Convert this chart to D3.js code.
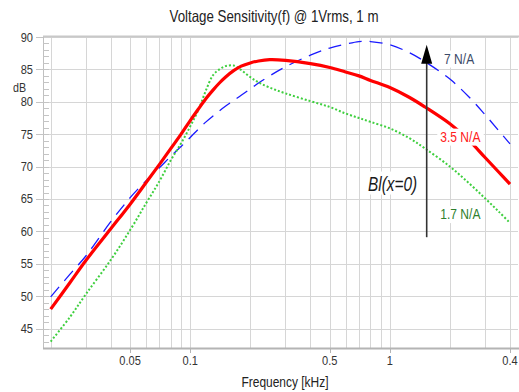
<!DOCTYPE html>
<meta charset="utf-8">
<head>
  <style>
    body { margin: 0; background: #fff; }
    text { font-family: "Liberation Sans", Arial, sans-serif; }
  </style>
  <script src="https://cdn.jsdelivr.net/npm/d3@7"></script>
</head>
<body>
<script>
  // frequency grid (kHz) shared by the three responses
  const freqs = [0.02, 0.025, 0.03, 0.04, 0.05, 0.06, 0.07, 0.08, 0.09, 0.1,
    0.11, 0.12, 0.13, 0.14, 0.15, 0.165, 0.18, 0.2, 0.22, 0.25, 0.3, 0.4, 0.5,
    0.6, 0.7, 0.8, 1, 1.25, 1.5, 2, 2.5, 3, 3.5, 4];

  // SPL in dB for three force factors
  const bl7 = [49.9, 53.4, 56.2, 61.5, 65.2, 67.8, 69.8, 71.6, 73.1, 74.5,
    75.8, 76.9, 77.8, 78.6, 79.3, 80.2, 81.0, 82.0, 82.9, 84.0, 85.4, 87.2, 88.3,
    88.9, 89.3, 89.3, 88.8, 87.6, 86.2, 83.5, 80.7, 78.0, 75.6, 73.5];
  const bl35 = [48.0, 52.1, 55.5, 60.4, 64.2, 67.5, 70.3, 72.8, 75.0, 77.1,
    78.9, 80.5, 81.8, 82.9, 83.8, 84.8, 85.5, 86.0, 86.3, 86.5, 86.4, 85.9, 85.3,
    84.6, 84.0, 83.3, 82.2, 80.7, 79.2, 76.6, 74.0, 71.4, 69.2, 67.3];
  const bl17 = [43.0, 46.8, 50.3, 55.6, 60.2, 64.3, 67.7, 71.0, 73.6, 76.2,
    78.8, 81.8, 84.1, 85.0, 85.5, 85.6, 84.9, 83.8, 83.0, 82.2, 81.3, 80.1, 79.2,
    78.2, 77.5, 76.9, 75.9, 74.4, 72.8, 70.0, 67.4, 65.1, 63.1, 61.3];

  const gridFreqs = [0.02, 0.03, 0.04, 0.05, 0.06, 0.07, 0.08, 0.09, 0.1,
    0.2, 0.3, 0.4, 0.5, 0.6, 0.7, 0.8, 0.9, 1, 2, 3, 4];
  const xTicks = [0.05, 0.1, 0.5, 1, 4];
  const xTickLabels = ["0.05", "0.1", "0.5", "1", "0.4"];
  const yTicks = [45, 50, 55, 60, 65, 70, 75, 80, 85, 90];

  // Bl arrow and curve labels
  const arrowFreq = 1.53, arrowFrom = 59.1, arrowTo = 88.8;
  const notes = [
    {text: "7 N/A", f: 1.87, db: 85.9, color: "#3b4a68"},
    {text: "3.5 N/A", f: 1.79, db: 73.85, color: "#ff2020"},
    {text: "1.7 N/A", f: 1.79, db: 61.9, color: "#2e7f2e"}
  ];

  const W = 519, H = 392;
  const pL = 43, pR = 518, pT = 37, pB = 348;

  const x = d3.scaleLog().domain([0.02, 4]).range([50.7, 510]);
  const y = d3.scaleLinear().domain([42, 90]).range([pB, pT]);

  // the chart's font is a condensed sans; squeeze the regular one to suit
  function squeeze(sel, k) {
    sel.each(function() {
      const w = this.getComputedTextLength();
      d3.select(this).attr("textLength", w * k).attr("lengthAdjust", "spacingAndGlyphs");
    });
    return sel;
  }
  function fitTo(sel, w) {
    return sel.attr("textLength", w).attr("lengthAdjust", "spacingAndGlyphs");
  }

  const svg = d3.select("body").append("svg")
    .attr("width", W).attr("height", H)
    .style("display", "block");

  svg.append("text")
    .attr("x", 274).attr("y", 22)
    .attr("text-anchor", "middle")
    .attr("font-size", 16.5)
    .attr("fill", "#222")
    .text("Voltage Sensitivity(f) @ 1Vrms, 1 m")
    .call(fitTo, 209);

  const grid = svg.append("g").attr("stroke", "#d6d6d6").attr("stroke-width", 1);
  grid.selectAll(".h").data(yTicks).join("line")
    .attr("x1", pL).attr("x2", pR)
    .attr("y1", d => Math.round(y(d)) + 0.5).attr("y2", d => Math.round(y(d)) + 0.5);
  grid.selectAll(".v").data(gridFreqs).join("line")
    .attr("x1", d => Math.round(x(d)) + 0.5).attr("x2", d => Math.round(x(d)) + 0.5)
    .attr("y1", pT).attr("y2", pB);

  // frame
  svg.append("line").attr("x1", pL).attr("x2", W).attr("y1", pT - 0.5).attr("y2", pT - 0.5)
    .attr("stroke", "#c8c8c8").attr("stroke-width", 2);
  svg.append("line").attr("x1", pL + 0.5).attr("x2", pL + 0.5).attr("y1", pT).attr("y2", pB)
    .attr("stroke", "#c0c0c0");
  svg.append("line").attr("x1", pL).attr("x2", W).attr("y1", pB + 0.5).attr("y2", pB + 0.5)
    .attr("stroke", "#b4b4b4").attr("stroke-width", 2);

  // y ticks
  svg.append("g").attr("stroke", "#c4c4c4")
    .selectAll("line").data(d3.range(43, 90)).join("line")
    .attr("x1", pL).attr("x2", pL + 6)
    .attr("y1", d => Math.round(y(d)) + 0.5).attr("y2", d => Math.round(y(d)) + 0.5);
  svg.append("g").attr("stroke", "#c4c4c4")
    .selectAll("line").data(yTicks).join("line")
    .attr("x1", pL - 7).attr("x2", pL)
    .attr("y1", d => Math.round(y(d)) + 0.5).attr("y2", d => Math.round(y(d)) + 0.5);
  svg.append("g").selectAll("text").data(yTicks).join("text")
    .attr("x", 33).attr("y", d => y(d) + 4.5)
    .attr("text-anchor", "end").attr("font-size", 13).attr("fill", "#333")
    .text(d => d)
    .call(squeeze, 0.85);
  svg.append("text").attr("x", 13).attr("y", 92)
    .attr("font-size", 13).attr("fill", "#333").text("dB")
    .call(squeeze, 0.82);

  // x ticks
  svg.append("g").attr("stroke", "#b4b4b4")
    .selectAll("line").data(xTicks).join("line")
    .attr("x1", d => Math.round(x(d)) + 0.5).attr("x2", d => Math.round(x(d)) + 0.5)
    .attr("y1", pB).attr("y2", pB + 5);
  svg.append("g").selectAll("text").data(xTicks).join("text")
    .attr("x", d => x(d)).attr("y", 365)
    .attr("text-anchor", "middle").attr("font-size", 13).attr("fill", "#333")
    .text((d, i) => xTickLabels[i])
    .call(squeeze, 0.85);
  svg.append("text").attr("x", 285).attr("y", 387)
    .attr("text-anchor", "middle").attr("font-size", 15.5).attr("fill", "#222")
    .text("Frequency [kHz]")
    .call(fitTo, 87);

  // curves
  svg.append("clipPath").attr("id", "plot")
    .append("rect").attr("x", pL).attr("y", pT).attr("width", pR - pL).attr("height", pB - pT);
  const line = vals => d3.line()
    .x((d, i) => x(freqs[i]))
    .y(d => y(d))
    .curve(d3.curveCatmullRom.alpha(0.5))(vals);
  const curves = svg.append("g").attr("clip-path", "url(#plot)").attr("fill", "none");
  curves.append("path").attr("d", line(bl7))
    .attr("stroke", "#1a1aff").attr("stroke-width", 1.3).attr("stroke-dasharray", "13,8");
  curves.append("path").attr("d", line(bl17))
    .attr("stroke", "#3fcf3f").attr("stroke-width", 2).attr("stroke-dasharray", "2,2");
  curves.append("path").attr("d", line(bl35))
    .attr("stroke", "#ff0000").attr("stroke-width", 3.2);

  // labels with white backing
  notes.forEach(n => {
    const g = svg.append("g");
    const t = g.append("text")
      .attr("x", x(n.f)).attr("y", y(n.db))
      .attr("font-size", 14.5).attr("fill", n.color)
      .text(n.text)
      .call(squeeze, 0.83);
    const b = t.node().getBBox();
    g.insert("rect", "text")
      .attr("x", b.x - 3).attr("y", b.y).attr("width", b.width + 6).attr("height", b.height + 1)
      .attr("fill", "#fff");
  });

  const blG = svg.append("g");
  const blT = blG.append("text")
    .attr("x", x(1.37)).attr("y", y(66.3))
    .attr("text-anchor", "end").attr("font-size", 21).attr("font-style", "italic")
    .attr("fill", "#1a1a1a").text("Bl(x=0)")
    .call(fitTo, 49);
  const bb = blT.node().getBBox();
  blG.insert("rect", "text")
    .attr("x", bb.x - 3).attr("y", bb.y).attr("width", bb.width + 6).attr("height", bb.height)
    .attr("fill", "#fff");

  // arrow
  const ax = x(arrowFreq);
  svg.append("line")
    .attr("x1", ax).attr("x2", ax)
    .attr("y1", y(arrowFrom)).attr("y2", y(arrowTo) + 12)
    .attr("stroke", "#333").attr("stroke-width", 1.6);
  svg.append("path")
    .attr("d", d3.line()([[ax, y(arrowTo)], [ax - 5.5, y(arrowTo) + 19], [ax + 5.5, y(arrowTo) + 19]]) + "Z")
    .attr("fill", "#000");
</script>
</body>
</html>
